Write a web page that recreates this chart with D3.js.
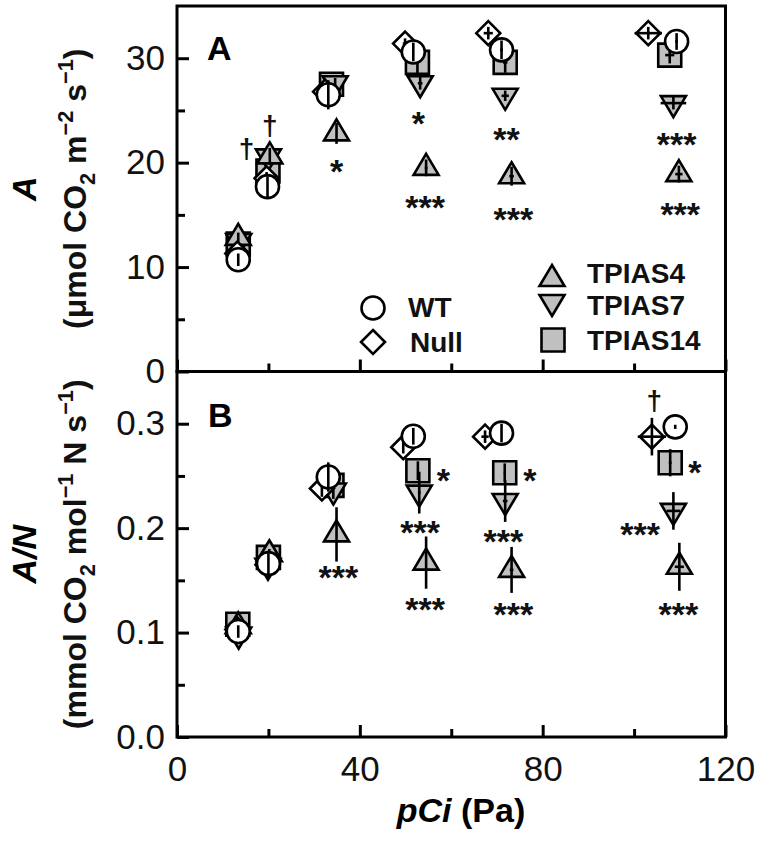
<!DOCTYPE html>
<html><head><meta charset="utf-8">
<script src="https://cdn.jsdelivr.net/npm/d3@7"></script>
<style>body{margin:0;background:#fff} svg text{font-family:"Liberation Sans",Arial,Helvetica,sans-serif}</style>
</head><body><svg id="c" width="760" height="841"></svg>
<script>
// ---------- DATA (pCi, value, y-error, x-error) ----------
const seriesNames = ["WT","Null","TPIAS4","TPIAS7","TPIAS14"];

// Panel A: net assimilation A (µmol CO2 m-2 s-1)
const A_WT     = [[13.4,10.7,0.6,0],[19.8,17.7,1.0,0],[33.1,26.5,1.4,0],[51.7,30.6,0.9,0],[71.0,30.8,0.9,0.3],[109.3,31.6,0.8,0.3]];
const A_Null   = [[13.2,11.3,0.5,0],[19.6,18.5,0.6,0],[32.4,26.8,0.6,0],[49.9,31.4,0.5,0.5],[68.1,32.4,0.6,1.0],[103.1,32.4,0.6,3.0]];
const A_TPIAS4 = [[13.4,12.8,0.5,0],[20.3,20.6,0.8,0],[34.9,22.8,1.0,0],[54.5,19.5,0.8,0.3],[73.2,18.7,0.9,0.5],[109.8,18.9,0.8,0.8]];
const A_TPIAS7 = [[13.5,12.5,0.4,0],[20.0,20.6,0.7,0],[34.6,27.6,0.5,0],[53.2,27.6,0.6,0.5],[71.8,26.4,0.5,0.8],[108.6,25.7,0.6,2.8]];
const A_TPIAS14= [[13.4,12.2,0.6,0],[19.9,19.2,1.0,0],[33.8,27.5,0.8,0],[52.6,29.6,1.2,0],[71.8,29.6,1.0,0.5],[107.8,30.3,0.8,1.0]];

// Panel B: A/N (mmol CO2 mol-1 N s-1)
const B_WT     = [[13.4,0.101,0.006,0],[20.0,0.166,0.010,0],[33.1,0.249,0.014,0],[51.7,0.288,0.008,0],[71.0,0.291,0.009,0],[109.0,0.297,0.002,0]];
const B_Null   = [[13.2,0.103,0.005,0],[19.8,0.165,0.006,0],[31.7,0.238,0.008,0],[49.5,0.2775,0.006,0],[67.4,0.2876,0.006,0.8],[103.9,0.2876,0.018,3.1]];
const B_TPIAS4 = [[13.4,0.106,0.004,0],[20.2,0.175,0.005,0],[34.9,0.194,0.026,0],[54.5,0.167,0.025,0],[73.2,0.160,0.022,0.4],[109.9,0.163,0.023,1.0]];
const B_TPIAS7 = [[13.5,0.098,0.004,0],[19.9,0.164,0.006,0],[34.2,0.236,0.008,0],[53.0,0.234,0.020,0.3],[71.8,0.226,0.020,0.5],[108.6,0.2165,0.018,1.5]];
const B_TPIAS14= [[13.3,0.108,0.004,0],[20.0,0.172,0.006,0],[33.9,0.241,0.008,0],[52.7,0.255,0.009,0],[71.7,0.253,0.009,0.2],[107.9,0.2626,0.013,0.3]];

// significance marks (x, y of glyph centre, label)
const A_marks = [[20.3,23.4,"†"],[15.2,21.2,"†"],[34.9,19.9,"*"],[52.8,24.5,"*"],[54.3,16.4,"***"],[72.1,22.9,"**"],[73.6,15.3,"***"],[109.3,22.5,"***"],[110.1,15.8,"***"]];
const B_marks = [[35.3,0.160,"***"],[58.3,0.253,"*"],[53.2,0.203,"***"],[54.3,0.1296,"***"],[77.2,0.253,"*"],[71.4,0.1944,"***"],[73.6,0.1245,"***"],[104.4,0.321,"†"],[113.3,0.2605,"*"],[101.3,0.201,"***"],[109.7,0.1245,"***"]];

// ticks
const xMajor = [0,40,80,120], xMinor = [20,60,100];
const yAMajor = [0,10,20,30], yAMinor = [5,15,25];
const yBMajor = [0,0.1,0.2,0.3], yBMinor = [0.05,0.15,0.25];

// ---------- LAYOUT ----------
const L=177, R=725.5, T=6, M=371.5, B=737;
const svg = d3.select("#c");
const x  = d3.scaleLinear().domain([0,120]).range([L,R]);
const yA = d3.scaleLinear().domain([0,35]).range([M,T]);
const yB = d3.scaleLinear().domain([0,0.35]).range([B,M]);
const FONT = '"Liberation Sans",Arial,sans-serif';
const GREY = "#c0c0c0";

const shapes = {
  circle:  "M0,-11.5A11.5,11.5 0 1,1 0,11.5A11.5,11.5 0 1,1 0,-11.5Z",
  diamond: "M0,-12L12,0L0,12L-12,0Z",
  up:      "M0,-14L12.5,7L-12.5,7Z",
  down:    "M0,14L12.5,-7L-12.5,-7Z",
  square:  "M-11.5,-11.5H11.5V11.5H-11.5Z"
};
const style = {
  WT:{shape:"circle",fill:"#fff"}, Null:{shape:"diamond",fill:"#fff"},
  TPIAS4:{shape:"up",fill:GREY}, TPIAS7:{shape:"down",fill:GREY}, TPIAS14:{shape:"square",fill:GREY}
};

function axes(y, major, minor, showX){
  const gl = svg.append("g").attr("transform",`translate(${L},0)`);
  gl.call(d3.axisLeft(y).tickValues(major).tickSize(-12).tickPadding(12).tickFormat(y===yA?d3.format("d"):d3.format(".1f")));
  gl.append("g").call(d3.axisLeft(y).tickValues(minor).tickSize(-8).tickFormat(""));
  const yb = y.range()[0];
  const gb = svg.append("g").attr("transform",`translate(0,${yb})`);
  gb.call(d3.axisBottom(x).tickValues(xMajor).tickSize(-12).tickPadding(19).tickFormat(showX?d3.format("d"):""));
  gb.append("g").call(d3.axisBottom(x).tickValues(xMinor).tickSize(-8).tickFormat(""));
  [gl,gb].forEach(g=>{
    g.selectAll(".domain").remove();
    g.selectAll("line").attr("stroke","#000").attr("stroke-width",3);
    g.selectAll("text").attr("font-size",35).attr("font-family",FONT).attr("fill","#111");
  });
}
axes(yA, yAMajor, yAMinor, false);
axes(yB, yBMajor, yBMinor, true);

function plot(y, data){
  const order = ["TPIAS14","TPIAS7","TPIAS4","Null","WT"];
  order.forEach(name=>{
    const st = style[name];
    const g = svg.append("g");
    data[name].forEach(([px,py,ey,ex])=>{
      const cx=x(px), cy=y(py);
      g.append("path").attr("d",shapes[st.shape]).attr("transform",`translate(${cx},${cy})`)
        .attr("fill",st.fill).attr("stroke","#000").attr("stroke-width",2.6);
      g.append("line").attr("x1",cx).attr("x2",cx).attr("y1",y(py-ey)).attr("y2",y(py+ey))
        .attr("stroke","#000").attr("stroke-width",2.6);
      if(ex>0) g.append("line").attr("x1",x(px-ex)).attr("x2",x(px+ex)).attr("y1",cy).attr("y2",cy)
        .attr("stroke","#000").attr("stroke-width",2.6);
    });
  });
}
plot(yA,{WT:A_WT,Null:A_Null,TPIAS4:A_TPIAS4,TPIAS7:A_TPIAS7,TPIAS14:A_TPIAS14});
plot(yB,{WT:B_WT,Null:B_Null,TPIAS4:B_TPIAS4,TPIAS7:B_TPIAS7,TPIAS14:B_TPIAS14});

function marks(y, arr){
  arr.forEach(([px,py,t])=>{
    const dag = t==="†";
    svg.append("text").attr("x",x(px)).attr("y",y(py)+(dag?8:19)).attr("text-anchor","middle")
      .attr("font-size",dag?28:34).attr("font-weight","bold").attr("fill","#111").text(t);
  });
}
marks(yA,A_marks); marks(yB,B_marks);

// frames
svg.append("rect").attr("x",L).attr("y",T).attr("width",R-L).attr("height",M-T).attr("fill","none").attr("stroke","#000").attr("stroke-width",3);
svg.append("rect").attr("x",L).attr("y",M).attr("width",R-L).attr("height",B-M).attr("fill","none").attr("stroke","#000").attr("stroke-width",3);

// panel letters
svg.append("text").attr("x",207).attr("y",60).attr("font-size",34).attr("font-weight","bold").text("A");
svg.append("text").attr("x",208).attr("y",427).attr("font-size",34).attr("font-weight","bold").text("B");

// legend
const legend = [["WT",373,308,408,317],["Null",373,342,410,352],["TPIAS4",552,279,587,283],["TPIAS7",552,302,587,315],["TPIAS14",553,340,587,350]];
legend.forEach(([name,mx,my,tx,ty])=>{
  const st=style[name];
  svg.append("path").attr("d",shapes[st.shape]).attr("transform",`translate(${mx},${my})`)
    .attr("fill",st.fill).attr("stroke","#000").attr("stroke-width",2.6);
  svg.append("text").attr("x",tx).attr("y",ty).attr("font-size",28).attr("font-weight","bold").attr("fill","#111").text(name);
});

// rich text helper
function rich(sel, parts, fs){
  let shift=0;
  parts.forEach(([t,k])=>{
    const ts = sel.append("tspan").text(t);
    const target = k==="sub"?0.28*fs : k==="sup"?-0.42*fs : 0;
    ts.attr("dy", target-shift); shift=target;
    if(k==="sub"||k==="sup") ts.attr("font-size",0.68*fs);
    if(k==="i") ts.attr("font-style","italic");
  });
}
// y titles
function ytitle(cy, main, paren){
  svg.append("text").attr("transform",`translate(36,${cy}) rotate(-90)`).attr("text-anchor","middle")
    .attr("font-size",34).attr("font-weight","bold").attr("font-style","italic").text(main);
  const t = svg.append("text").attr("transform",`translate(86,${cy}) rotate(-90)`).attr("text-anchor","middle")
    .attr("font-size",32).attr("font-weight","bold").attr("fill","#111");
  rich(t, paren, 32);
}
ytitle((T+M)/2, "A", [["(μmol CO","n"],["2","sub"],[" m","n"],["−2","sup"],[" s","n"],["−1","sup"],[")","n"]]);
ytitle((M+B)/2, "A/N", [["(mmol CO","n"],["2","sub"],[" mol","n"],["−1","sup"],[" N s","n"],["−1","sup"],[")","n"]]);

// x title
const xt = svg.append("text").attr("x",461).attr("y",822).attr("text-anchor","middle").attr("font-size",34).attr("font-weight","bold");
rich(xt, [["pCi","i"],[" (Pa)","n"]], 34);
</script></body></html>
